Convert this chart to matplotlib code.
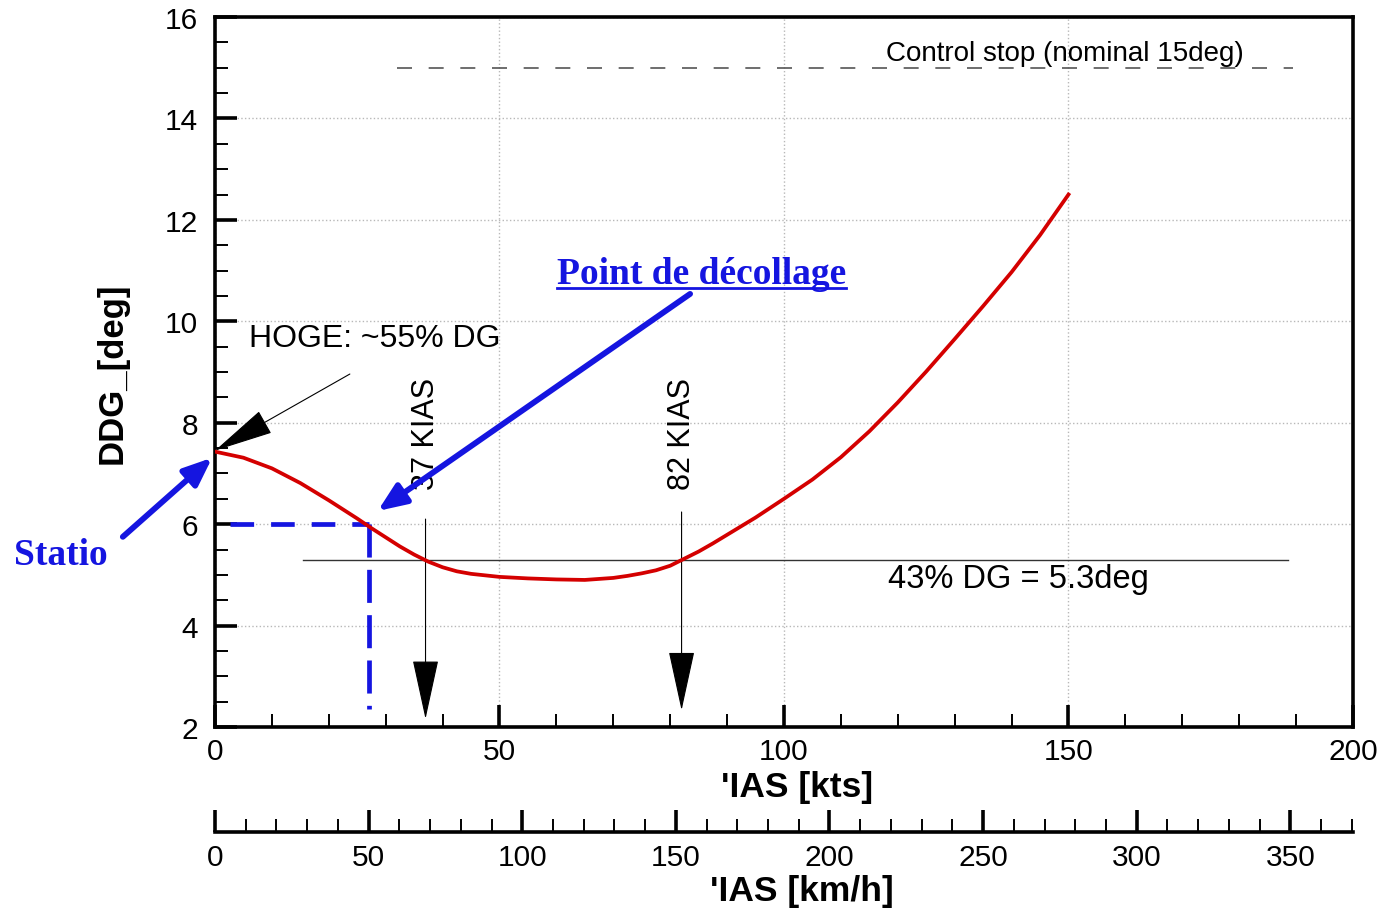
import matplotlib
matplotlib.use("Agg")
import matplotlib.pyplot as plt
from matplotlib.ticker import MultipleLocator, FixedLocator
from matplotlib.lines import Line2D

plt.rcParams['font.family'] = ['Liberation Sans', 'DejaVu Sans']

# --- data ---
ias_kts = [0, 5, 10, 15, 20, 25, 27.5, 30, 32.5, 35, 37.5, 40, 42.5, 45, 47.5,
           50, 55, 60, 65, 70, 72.5, 75, 77.5, 80, 82.5, 85, 87.5, 90, 95,
           100, 105, 110, 115, 120, 125, 130, 135, 140, 145, 150]
ddg_deg = [7.43, 7.31, 7.10, 6.81, 6.47, 6.11, 5.92, 5.74, 5.56, 5.40, 5.26,
           5.15, 5.07, 5.02, 4.99, 4.96, 4.93, 4.91, 4.90, 4.94, 4.98, 5.03,
           5.09, 5.18, 5.32, 5.46, 5.62, 5.79, 6.13, 6.50, 6.88, 7.32, 7.83,
           8.40, 9.01, 9.65, 10.30, 10.97, 11.70, 12.50]

control_stop_deg = 15.0
control_stop_span = [32, 189.5]
dg43_deg = 5.3
dg43_span = [15.5, 188.5]

kias_marks = [37, 82]
kias_top = [6.1, 6.24]
kias_tip = [2.16, 2.33]
kias_labels = ["37 KIAS", "82 KIAS"]

takeoff_kts = 27.0
takeoff_deg = 6.0
takeoff_dash_x = [2.6, 27.0]
takeoff_dash_y = [6.0, 2.35]

hover_deg = 7.45
KMH_PER_KT = 1.852
kmh_major = [0, 50, 100, 150, 200, 250, 300, 350]

RED = '#d40000'
BLUE = '#1515e0'

fig = plt.figure(figsize=(13.82, 9.12), dpi=100)
ax = fig.add_axes([0.15557, 0.20175, 0.82344, 0.77851])

ax.plot(ias_kts, ddg_deg, color=RED, lw=2.7, zorder=5, solid_joinstyle='round')

# control stop + 43% DG lines
ax.plot(control_stop_span, [control_stop_deg] * 2, color='#555555', lw=1.2,
        dashes=(9, 10), zorder=3)
ax.text(118, 15.3, "Control stop (nominal 15deg)", fontsize=20,
        ha='left', va='center', zorder=4)
ax.plot(dg43_span, [dg43_deg] * 2, color='#333333', lw=1.0, zorder=3)
ax.text(118.3, 4.92, "43% DG = 5.3deg", fontsize=23.5, ha='left', va='center')

# KIAS markers
for xk, y0, y1, lab in zip(kias_marks, kias_top, kias_tip, kias_labels):
    ax.annotate('', xy=(xk, y1), xytext=(xk, y0),
                arrowprops=dict(arrowstyle="-|>,head_length=39,head_width=8.5",
                                mutation_scale=1, color='black', lw=0.8,
                                shrinkA=0, shrinkB=0), zorder=4)
    ax.text(xk, 7.8, lab, fontsize=22, rotation=90, ha='center', va='center')

# HOGE arrow
ax.text(6.0, 9.67, "HOGE: ~55% DG", fontsize=23, ha='left', va='center')
ax.annotate('', xy=(0, hover_deg), xytext=(23.7, 8.96),
            arrowprops=dict(arrowstyle="-|>,head_length=39,head_width=8.3",
                            mutation_scale=1, color='black', lw=0.8,
                            shrinkA=0, shrinkB=0),
            annotation_clip=False, zorder=6)

# take-off point (blue)
ax.plot([takeoff_dash_x[0], takeoff_kts], [takeoff_deg, takeoff_deg],
        color=BLUE, lw=3.4, dashes=(5, 3.6), zorder=4)
ax.plot([takeoff_kts, takeoff_kts], takeoff_dash_y,
        color=BLUE, lw=3.4, dashes=(7, 2.6), zorder=4)
ax.annotate('', xy=(28.6, 6.26), xytext=(83.5, 10.54),
            arrowprops=dict(arrowstyle="-|>,head_length=17,head_width=7",
                            mutation_scale=1, color=BLUE, lw=4.2,
                            shrinkA=0, shrinkB=0), zorder=6)
pt = ax.text(60.1, 10.95, "Point de décollage", fontsize=27, color=BLUE,
             family='Liberation Serif', weight='bold', ha='left', va='center')

ax.annotate('', xy=(-0.5, 7.31), xytext=(-16.2, 5.75),
            arrowprops=dict(arrowstyle="-|>,head_length=17,head_width=7",
                            mutation_scale=1, color=BLUE, lw=4.2,
                            shrinkA=0, shrinkB=0),
            annotation_clip=False, zorder=6)
ax.text(-35.3, 5.41, "Statio", fontsize=27, color=BLUE, family='Liberation Serif',
        weight='bold', ha='left', va='center', clip_on=False)

# axes, ticks, grid
ax.set_xlim(0, 200)
ax.set_ylim(2, 16)
ax.xaxis.set_major_locator(MultipleLocator(50))
ax.xaxis.set_minor_locator(MultipleLocator(10))
ax.yaxis.set_major_locator(MultipleLocator(2))
ax.yaxis.set_minor_locator(MultipleLocator(0.5))
ax.tick_params(which='both', direction='in', top=False, right=False,
               labelsize=21.5, colors='black')
ax.tick_params(which='major', length=15.8, width=2.6)
ax.tick_params(which='minor', length=9.4, width=1.4)
ax.tick_params(axis='x', pad=7)
ax.tick_params(axis='y', pad=12)
ax.grid(True, which='major', ls=':', color='#b8b8b8', lw=1.0, zorder=0)
for sp in ax.spines.values():
    sp.set_linewidth(2.6)

ax.set_ylabel("DDG_[deg]", fontsize=25, weight='bold')
ax.yaxis.set_label_coords(-0.076, 0.5)

# km/h scale
kmh = ax.secondary_xaxis(-0.148, functions=(lambda k: k * KMH_PER_KT,
                                            lambda v: v / KMH_PER_KT))
kmh.xaxis.set_major_locator(FixedLocator(kmh_major))
kmh.xaxis.set_minor_locator(MultipleLocator(10))
kmh.tick_params(which='both', direction='in', labelsize=21.5, pad=7.5)
kmh.tick_params(which='major', length=15.8, width=2.6)
kmh.tick_params(which='minor', length=9.4, width=1.4)
kmh.spines['bottom'].set_linewidth(2.6)

fig.text(0.5767, 0.137, "'IAS [kts]", fontsize=25.5, weight='bold',
         ha='center', va='center')
fig.text(0.5803, 0.023, "'IAS [km/h]", fontsize=25.5, weight='bold',
         ha='center', va='center')

# underline the take-off label
fig.canvas.draw()
bb = pt.get_window_extent()
W, H = fig.bbox.width, fig.bbox.height
fig.add_artist(Line2D([bb.x0 / W, bb.x1 / W], [(bb.y0 + 3) / H] * 2,
                      transform=fig.transFigure, color=BLUE, lw=2.0))

fig.savefig('out.png', dpi=100)
